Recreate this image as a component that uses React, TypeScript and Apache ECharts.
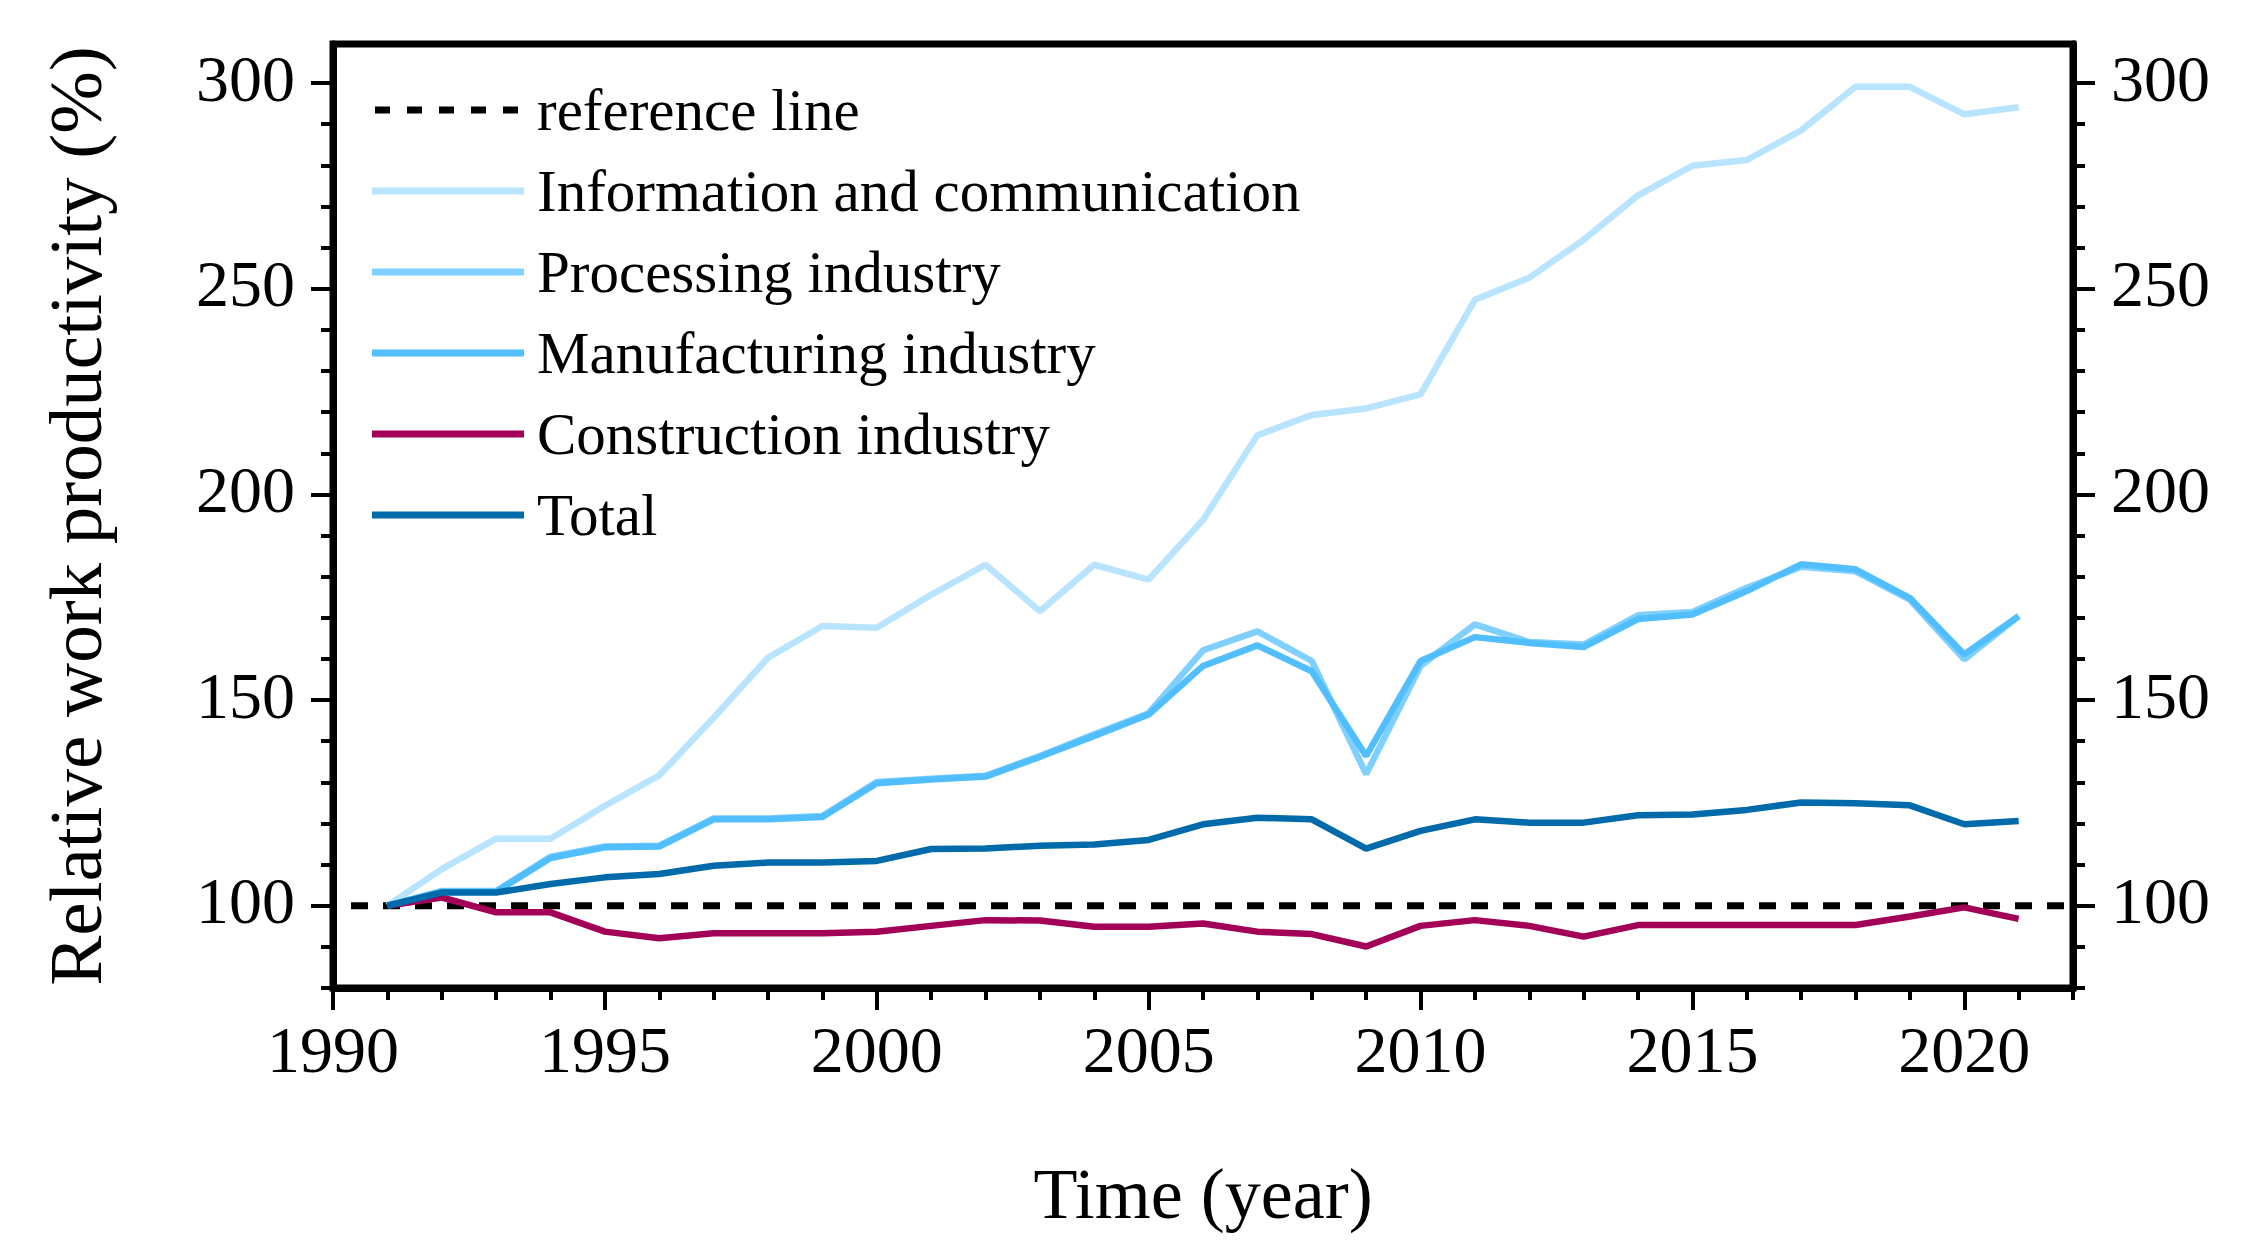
import React, { useEffect, useRef } from "react";
import * as echarts from "echarts";

const FONT = "Liberation Serif";

const years = [
  1991, 1992, 1993, 1994, 1995, 1996, 1997, 1998, 1999, 2000, 2001, 2002, 2003, 2004, 2005, 2006,
  2007, 2008, 2009, 2010, 2011, 2012, 2013, 2014, 2015, 2016, 2017, 2018, 2019, 2020, 2021,
];

const infoComm = [
  100, 108.9, 116.3, 116.3, 124.3, 131.7, 145.7, 160.3, 168, 167.6, 175.6, 182.9, 171.6, 182.9, 179.3,
  193.8, 214.4, 219.3, 220.9, 224.3, 247.3, 252.7, 261.9, 272.7, 279.9, 281.3, 288.5, 299.1, 299.1,
  292.4, 294.1,
];

const processing = [
  100, 103.6, 103.6, 111.9, 114.4, 114.6, 121.2, 121.2, 121.8, 130.1, 130.9, 131.6, 136.4, 141.7, 146.8,
  162.1, 166.7, 159.5, 132, 158.3, 168.4, 164.1, 163.5, 170.6, 171.4, 177.3, 182.4, 181.3, 174.4, 159.9,
  170.4,
];

const manufacturing = [
  100, 103.4, 103.4, 111.6, 114.2, 114.4, 121, 121, 121.6, 129.8, 130.7, 131.4, 136.2, 141.3, 146.5,
  158.3, 163.3, 157, 136.4, 159.5, 165.3, 163.9, 162.9, 169.7, 170.8, 176.5, 183, 181.8, 174.8, 161.1,
  170.4,
];

const construction = [
  100, 102, 98.4, 98.4, 93.7, 92.1, 93.3, 93.3, 93.3, 93.7, 95.1, 96.5, 96.4, 94.9, 94.9, 95.7, 93.7,
  93.1, 90.1, 95.1, 96.5, 95.1, 92.5, 95.3, 95.3, 95.3, 95.3, 95.3, 97.4, 99.6, 96.8,
];

const total = [
  100, 103.2, 103.2, 105.3, 106.9, 107.7, 109.7, 110.5, 110.5, 110.9, 113.8, 113.9, 114.6, 114.9, 116,
  119.8, 121.4, 121, 113.9, 118.2, 121, 120.2, 120.2, 122, 122.2, 123.3, 125.1, 124.9, 124.4, 119.8,
  120.6,
];

const referenceX = [1990, 2022];
const referenceY = [100, 100];

const xMajor = [1990, 1995, 2000, 2005, 2010, 2015, 2020];
const xMinor = [
  1991, 1992, 1993, 1994, 1996, 1997, 1998, 1999, 2001, 2002, 2003, 2004, 2006, 2007, 2008, 2009, 2011,
  2012, 2013, 2014, 2016, 2017, 2018, 2019, 2021, 2022,
];
const yMajor = [100, 150, 200, 250, 300];
const yMinor = [80, 90, 110, 120, 130, 140, 160, 170, 180, 190, 210, 220, 230, 240, 260, 270, 280, 290];

const seriesNames = [
  "reference line",
  "Information and communication",
  "Processing industry",
  "Manufacturing industry",
  "Construction industry",
  "Total",
];
const seriesColors = ["#000000", "#B8E4FF", "#80D0FF", "#50BEFF", "#A30057", "#006AAA"];

const X_MIN = 1990;
const X_MAX = 2022;
const Y_MIN = 80;
const Y_MAX = 309.5;

const DASHED_ICON =
  "path://M3,0h15v7h-15z M35,0h15v7h-15z M67,0h15v7h-15z M99,0h15v7h-15z M131,0h15v7h-15z M0,0h0.01v0.01h-0.01z M151.99,6.99h0.01v0.01h-0.01z";

const pair = (xs: number[], ys: number[]) => xs.map((x, i) => [x, ys[i]]);

export default function App() {
  const ref = useRef<HTMLDivElement>(null);

  useEffect(() => {
    if (!ref.current) return;
    const chart = echarts.init(ref.current, null, { renderer: "svg" });

    const gridRect = { left: 333, top: 44, width: 1740, height: 944 };
    const tickLine = { color: "#000", width: 4 };
    const labelStyle = { fontFamily: FONT, fontSize: 66, color: "#000" };
    const yearFmt = (v: number) => String(Math.round(v));
    const yLabel = {
      show: true,
      customValues: yMajor,
      margin: 38,
      verticalAlign: "bottom",
      lineHeight: 10,
      ...labelStyle,
    };

    const lineSeries = (name: string, ys: number[], color: string, z: number) => ({
      name,
      type: "line",
      xAxisIndex: 0,
      yAxisIndex: 0,
      data: pair(years, ys),
      symbol: "none",
      showSymbol: false,
      color,
      itemStyle: { color },
      lineStyle: { color, width: 6.5 },
      z,
    });

    const option: any = {
      animation: false,
      backgroundColor: "#fff",
      grid: [
        { ...gridRect, show: true, borderColor: "#000", borderWidth: 7, backgroundColor: "transparent" },
        { ...gridRect, show: false },
      ],
      legend: {
        orient: "vertical",
        left: 372,
        top: 80,
        padding: 0,
        itemWidth: 152,
        itemHeight: 7,
        itemGap: 21,
        itemStyle: { borderWidth: 0 },
        data: seriesNames.map((name, i) => ({ name, icon: i === 0 ? DASHED_ICON : "rect" })),
        textStyle: { fontFamily: FONT, fontSize: 59, lineHeight: 60, color: "#000", padding: [0, 0, 0, 8] },
      },
      xAxis: [
        {
          gridIndex: 0,
          type: "value",
          min: X_MIN,
          max: X_MAX,
          position: "bottom",
          axisLine: { show: true, lineStyle: { color: "#000", width: 7 } },
          axisTick: { show: true, customValues: xMajor, length: 22, lineStyle: tickLine },
          axisLabel: { show: true, customValues: xMajor, margin: 28, formatter: yearFmt, ...labelStyle },
          splitLine: { show: false },
          name: "Time (year)",
          nameLocation: "middle",
          nameGap: 170,
          nameTextStyle: { fontFamily: FONT, fontSize: 72, color: "#000" },
        },
        {
          gridIndex: 1,
          type: "value",
          min: X_MIN,
          max: X_MAX,
          position: "bottom",
          axisLine: { show: false },
          axisTick: { show: true, customValues: xMinor, length: 12, lineStyle: tickLine },
          axisLabel: { show: false },
          splitLine: { show: false },
        },
      ],
      yAxis: [
        {
          gridIndex: 0,
          type: "value",
          min: Y_MIN,
          max: Y_MAX,
          position: "left",
          axisLine: { show: true, lineStyle: { color: "#000", width: 7 } },
          axisTick: { show: true, customValues: yMajor, length: 22, lineStyle: tickLine },
          axisLabel: yLabel,
          splitLine: { show: false },
          name: "Relative work productivity (%)",
          nameLocation: "middle",
          nameGap: 220,
          nameRotate: 90,
          nameTextStyle: { fontFamily: FONT, fontSize: 75, color: "#000" },
        },
        {
          gridIndex: 0,
          type: "value",
          min: Y_MIN,
          max: Y_MAX,
          position: "right",
          axisLine: { show: true, lineStyle: { color: "#000", width: 7 } },
          axisTick: { show: true, customValues: yMajor, length: 22, lineStyle: tickLine },
          axisLabel: yLabel,
          splitLine: { show: false },
        },
        {
          gridIndex: 1,
          type: "value",
          min: Y_MIN,
          max: Y_MAX,
          position: "left",
          axisLine: { show: false },
          axisTick: { show: true, customValues: yMinor, length: 12, lineStyle: tickLine },
          axisLabel: { show: false },
          splitLine: { show: false },
        },
        {
          gridIndex: 1,
          type: "value",
          min: Y_MIN,
          max: Y_MAX,
          position: "right",
          axisLine: { show: false },
          axisTick: { show: true, customValues: yMinor, length: 12, lineStyle: tickLine },
          axisLabel: { show: false },
          splitLine: { show: false },
        },
      ],
      series: [
        {
          name: seriesNames[0],
          type: "line",
          xAxisIndex: 0,
          yAxisIndex: 0,
          data: pair(referenceX, referenceY),
          symbol: "none",
          showSymbol: false,
          color: seriesColors[0],
          itemStyle: { color: seriesColors[0] },
          lineStyle: { color: seriesColors[0], width: 7, type: [17, 15], dashOffset: 14 },
          z: 2,
        },
        lineSeries(seriesNames[1], infoComm, seriesColors[1], 3),
        lineSeries(seriesNames[2], processing, seriesColors[2], 4),
        lineSeries(seriesNames[3], manufacturing, seriesColors[3], 5),
        lineSeries(seriesNames[4], construction, seriesColors[4], 6),
        lineSeries(seriesNames[5], total, seriesColors[5], 7),
      ],
    };

    chart.setOption(option);
    return () => chart.dispose();
  }, []);

  return (
    <div
      ref={ref}
      style={{ position: "absolute", left: 0, top: 0, width: 2245, height: 1250, background: "#fff" }}
    />
  );
}
